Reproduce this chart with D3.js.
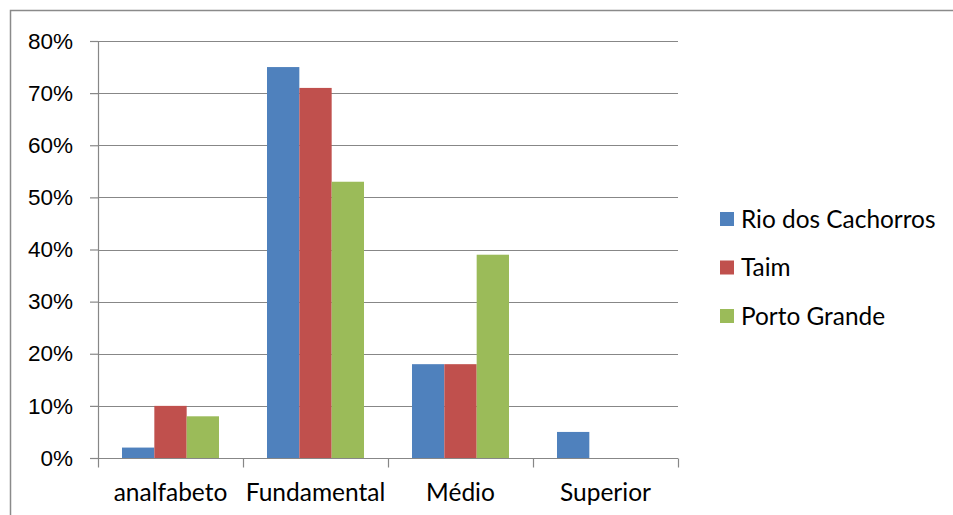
<!DOCTYPE html>
<html>
<head>
<meta charset="utf-8">
<script src="https://cdn.jsdelivr.net/npm/d3@7"></script>
<style>
  body { margin: 0; background: #fff; }
  svg { display: block; font-family: Lato, "Open Sans", sans-serif; }
</style>
</head>
<body>
<div id="chart"></div>
<script>
const categories = ["analfabeto", "Fundamental", "Médio", "Superior"];
const seriesNames = ["Rio dos Cachorros", "Taim", "Porto Grande"];
const rioDosCachorros = [0.02, 0.75, 0.18, 0.05];
const taim = [0.10, 0.71, 0.18, 0];
const portoGrande = [0.08, 0.53, 0.39, 0];
const yTicks = [0, 0.1, 0.2, 0.3, 0.4, 0.5, 0.6, 0.7, 0.8];
const colors = ["#4F81BD", "#C0504D", "#9BBB59"];

const seriesValues = [rioDosCachorros, taim, portoGrande];
const data = categories.map((c, i) => ({
    category: c,
    values: seriesNames.map((s, j) => ({ series: s, value: seriesValues[j][i] }))
}));

const W = 953, H = 515;
const margin = { top: 41, right: 275, bottom: 57, left: 98 };
const width = W - margin.left - margin.right;
const height = H - margin.top - margin.bottom;

const root = d3.select("#chart").append("svg")
    .attr("width", W)
    .attr("height", H);

// outer frame
root.append("path")
    .attr("d", `M10.5,${H} V10.5 H${W}`)
    .attr("fill", "none")
    .attr("stroke", "#8a8a8a")
    .attr("stroke-width", 1.5);

const svg = root.append("g")
    .attr("transform", `translate(${margin.left},${margin.top})`);

// scales
const x0 = d3.scaleBand()
    .domain(categories)
    .range([0, width])
    .paddingInner(0.331)
    .paddingOuter(0.1655);
const x1 = d3.scaleBand()
    .domain(seriesNames)
    .range([0, x0.bandwidth()]);
const y = d3.scaleLinear()
    .domain([0, 0.8])
    .range([height, 0]);

const gridColor = "#878787";

// horizontal grid
svg.append("g")
    .selectAll("line")
    .data(yTicks.slice(1))
    .join("line")
    .attr("x1", 0)
    .attr("x2", width)
    .attr("y1", d => Math.round(y(d)) + 0.5)
    .attr("y2", d => Math.round(y(d)) + 0.5)
    .attr("stroke", gridColor)
    .attr("stroke-width", 1.2);

// bars
svg.append("g")
    .selectAll("g")
    .data(data)
    .join("g")
    .attr("transform", d => `translate(${x0(d.category)},0)`)
    .selectAll("rect")
    .data(d => d.values)
    .join("rect")
    .attr("x", d => x1(d.series))
    .attr("width", x1.bandwidth())
    .attr("y", d => y(d.value))
    .attr("height", d => height - y(d.value))
    .attr("fill", (d, i) => colors[i]);

// Y axis
const yAxis = svg.append("g")
    .call(d3.axisLeft(y)
        .tickValues(yTicks)
        .tickSize(8)
        .tickPadding(17)
        .tickFormat(d3.format(".0%")));
yAxis.select(".domain").attr("stroke", gridColor).attr("stroke-width", 1.2)
    .attr("d", `M0.5,${height} V0`);
yAxis.selectAll(".tick line").attr("stroke", gridColor).attr("stroke-width", 1.2);
yAxis.selectAll("text")
    .attr("fill", "#000")
    .style("font-size", "22.5px");

// X axis
const xAxis = svg.append("g")
    .attr("transform", `translate(0,${Math.round(height) + 0.5})`);
xAxis.append("line")
    .attr("x1", 0).attr("x2", width)
    .attr("stroke", gridColor).attr("stroke-width", 1.2);
xAxis.selectAll(".sep")
    .data(d3.range(categories.length + 1))
    .join("line")
    .attr("class", "sep")
    .attr("x1", i => Math.round(i * x0.step()) + 0.5)
    .attr("x2", i => Math.round(i * x0.step()) + 0.5)
    .attr("y1", 0)
    .attr("y2", 9)
    .attr("stroke", gridColor)
    .attr("stroke-width", 1.2);
xAxis.selectAll(".lbl")
    .data(categories)
    .join("text")
    .attr("class", "lbl")
    .attr("x", d => x0(d) + x0.bandwidth() / 2)
    .attr("y", 42)
    .attr("text-anchor", "middle")
    .attr("fill", "#000")
    .style("font-size", "24.5px")
    .text(d => d);

// legend
const legend = root.append("g")
    .attr("transform", "translate(720,219)");
const item = legend.selectAll("g")
    .data(seriesNames)
    .join("g")
    .attr("transform", (d, i) => `translate(0,${i * 48.5})`);
item.append("rect")
    .attr("y", -7)
    .attr("width", 14)
    .attr("height", 14)
    .attr("fill", (d, i) => colors[i]);
item.append("text")
    .attr("x", 21)
    .attr("dy", "0.35em")
    .attr("fill", "#000")
    .style("font-size", "24.4px")
    .text(d => d);
</script>
</body>
</html>
